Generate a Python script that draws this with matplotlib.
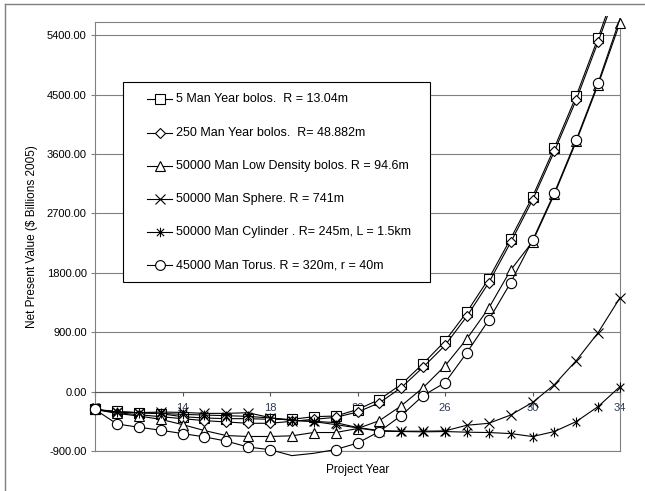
import numpy as np
import matplotlib
matplotlib.use("Agg")
import matplotlib.pyplot as plt
import matplotlib.transforms as mtransforms
from matplotlib.lines import Line2D
from matplotlib.patches import Rectangle
from matplotlib.path import Path
from matplotlib.ticker import FormatStrFormatter

plt.rcParams['font.family'] = ['Liberation Sans', 'DejaVu Sans']

# ---- data ----
years = [10, 11, 12, 13, 14, 15, 16, 17, 18, 19, 20, 21, 22,
         23, 24, 25, 26, 27, 28, 29, 30, 31, 32, 33, 34]

man5_bolo = [-270, -300, -320, -335, -380, -400, -410, -410, -420, -420, -380, -370, -272,
             -120, 110, 424, 765, 1205, 1711, 2316, 2952, 3694, 4480, 5360, 6300]
man250_bolo = [-270, -320, -350, -380, -410, -440, -460, -480, -480, -450, -420, -390, -310,
               -170, 60, 370, 700, 1140, 1650, 2260, 2900, 3640, 4420, 5300, 6220]
low_density = [-270, -330, -370, -420, -500, -590, -666, -680, -680, -670, -620, -620, -560,
               -440, -215, 60, 390, 800, 1265, 1840, 2270, 2990, 3790, 4650, 5590]
sphere = [-270, -310, -318, -310, -315, -330, -330, -320, -394, -440, -450, -470, -545,
          -590, -600, -600, -595, -510, -480, -355, -165, 106, 470, 893, 1423]
cylinder = [-270, -310, -320, -330, -345, -355, -365, -375, -400, -430, -455, -500, -550,
            -600, -605, -610, -605, -615, -620, -636, -681, -605, -454, -227, 76]
torus = [-270, -490, -540, -585, -636, -686, -750, -840, -880, -970, -935, -878, -780,
         -605, -363, -61, 136, 590, 1085, 1650, 2290, 3013, 3815, 4678, 5650]

labels = [
    "5 Man Year bolos.  R = 13.04m",
    "250 Man Year bolos.  R= 48.882m",
    "50000 Man Low Density bolos. R = 94.6m",
    "50000 Man Sphere. R = 741m",
    "50000 Man Cylinder . R= 245m, L = 1.5km",
    "45000 Man Torus. R = 320m, r = 40m",
]

x_ticks = [10, 14, 18, 22, 26, 30, 34]
YMIN, YMAX = -900, 5600

# excel style asterisk marker: an x with a vertical bar
asterisk = Path([(-1, -1), (1, 1), (-1, 1), (1, -1), (0, -1.3), (0, 1.3)],
                [Path.MOVETO, Path.LINETO, Path.MOVETO, Path.LINETO, Path.MOVETO, Path.LINETO])

series = [
    (man5_bolo, 's', 7.2),
    (man250_bolo, 'D', 5.3),
    (low_density, '^', 7.6),
    (sphere, 'x', 7.2),
    (cylinder, asterisk, 7.2),
    (torus, 'o', 7.4),
]

W, H = 645, 491
fig = plt.figure(figsize=(W / 100, H / 100), dpi=100, facecolor='white')
# pixel coordinates, origin top-left
px = mtransforms.Affine2D().scale(1 / W, -1 / H).translate(0, 1) + fig.transFigure

ax = fig.add_axes([95 / W, 1 - 451 / H, 525 / W, 429 / H])
ax.set_xlim(10, 34)
ax.set_ylim(YMIN, YMAX)
ax.set_axisbelow(True)

grey = '#808080'
for s in ['top', 'right', 'left']:
    ax.spines[s].set_color(grey)
    ax.spines[s].set_linewidth(0.8)
ax.spines['bottom'].set_position(('data', 0))
ax.spines['bottom'].set_color('#555555')
ax.spines['bottom'].set_linewidth(0.8)
ax.plot([0, 1], [0, 0], transform=ax.transAxes, color=grey, lw=0.8, clip_on=False, zorder=0.6)

ax.set_yticks(np.arange(YMIN, 5401, 900))
ax.yaxis.set_major_formatter(FormatStrFormatter('%.2f'))
ax.yaxis.grid(True, color=grey, lw=0.8)
ax.tick_params(axis='y', length=3, width=0.8, color=grey, pad=3, labelsize=8, labelcolor='black')

ax.set_xticks(x_ticks)
ax.tick_params(axis='x', direction='out', length=3, width=0.8, color='#555555', pad=5,
               labelsize=8, labelcolor='#2b3a55')

clip_rect = Rectangle((-0.03, -0.015), 1.06, 1.03, transform=ax.transAxes)

for i, (vals, mk, ms) in enumerate(series):
    line, = ax.plot(years, vals, color='black', lw=0.8, zorder=3 + 2 * i)
    line.set_clip_path(clip_rect)
    v = np.array(vals, dtype=float)
    inside = (v >= YMIN) & (v <= YMAX)
    ax.plot(np.array(years)[inside], v[inside], ls='none', marker=mk, ms=ms,
            mfc='white', mec='black', mew=0.8, clip_on=False, zorder=4 + 2 * i)

# axis titles
fig.text(32, 237, "Net Present Value (\\$ Billions 2005)", transform=px, rotation=90,
         ha='center', va='center', fontsize=8.5)
fig.text(358, 470, "Project Year", transform=px, ha='center', va='center', fontsize=8.5)

# legend box drawn by hand to match the excel layout
fig.add_artist(Rectangle((123, 82), 307, 200, transform=px, facecolor='white',
                         edgecolor='black', lw=0.8, zorder=5))
for i, (lab, (vals, mk, ms)) in enumerate(zip(labels, series)):
    y = 99.5 + 33.2 * i
    fig.add_artist(Line2D([147, 172], [y, y], transform=px, color='black', lw=0.8, zorder=6))
    fig.add_artist(Line2D([159.5], [y], transform=px, ls='none', marker=mk, ms=ms * 0.95,
                          mfc='white', mec='black', mew=0.8, zorder=7))
    fig.text(176, y, lab, transform=px, ha='left', va='center', fontsize=9, zorder=7)

# chart area border (left and top edges visible in the reference)
fig.add_artist(Line2D([5, 5], [4, H], transform=px, color='#7f7f7f', lw=1))
fig.add_artist(Line2D([5, W], [4, 4], transform=px, color='#7f7f7f', lw=1))

fig.savefig('out.png', dpi=100)
